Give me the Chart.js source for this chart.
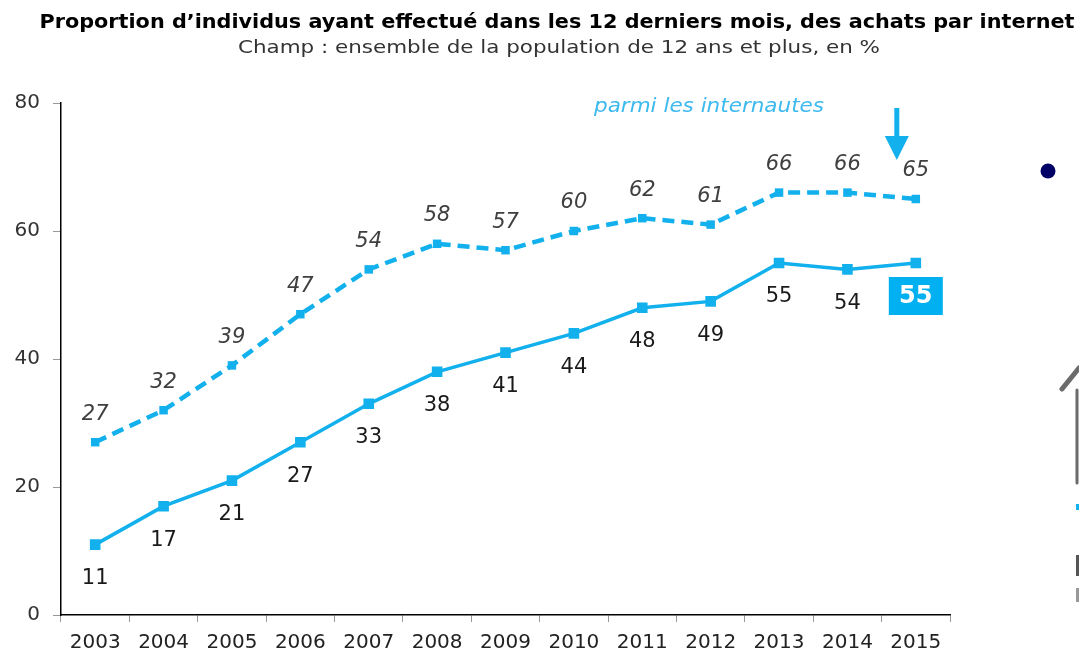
<!DOCTYPE html>
<html><head><meta charset="utf-8">
<script src="https://cdn.jsdelivr.net/npm/chart.js@4/dist/chart.umd.min.js"></script>
<style>html,body{margin:0;padding:0;background:#fff}#wrap{width:1079px;height:654px;position:relative}</style>
</head><body><div id="wrap"><canvas id="c" width="1079" height="654"></canvas></div>
<script>
const years = ['2003','2004','2005','2006','2007','2008','2009','2010','2011','2012','2013','2014','2015'];
const internautes = [27,32,39,47,54,58,57,60,62,61,66,66,65];
const ensemble = [11,17,21,27,33,38,41,44,48,49,55,54,55];
const yTicks = [0,20,40,60,80];
const titleText = 'Proportion d’individus ayant effectué dans les 12 derniers mois, des achats par internet';
const subtitleText = 'Champ : ensemble de la population de 12 ans et plus, en %';
const seriesNote = 'parmi les internautes';

const BLUE = '#12b0ec';

function fitText(ctx, text, cx, y, width, font, color) {
  ctx.save();
  ctx.font = font;
  ctx.fillStyle = color;
  ctx.textBaseline = 'middle';
  ctx.textAlign = 'left';
  const w = ctx.measureText(text).width;
  const s = width / w;
  ctx.translate(cx - width / 2, y);
  ctx.scale(s, 1);
  ctx.fillText(text, 0, 0);
  ctx.restore();
}

const extras = {
  id: 'extras',
  afterDatasetsDraw(chart) {
    const ctx = chart.ctx;
    // titles
    fitText(ctx, titleText, 557, 23, 1035, 'bold 19px "DejaVu Sans", sans-serif', '#000');
    fitText(ctx, subtitleText, 559, 48, 642, '18px "DejaVu Sans", sans-serif', '#333');
    // data labels
    const m0 = chart.getDatasetMeta(0), m1 = chart.getDatasetMeta(1);
    ctx.save();
    ctx.textAlign = 'center'; ctx.textBaseline = 'middle';
    ctx.font = 'italic 21px "DejaVu Sans", sans-serif';
    ctx.fillStyle = '#404040';
    m0.data.forEach((p, i) => { ctx.fillText(String(internautes[i]), p.x, p.y - 28); });
    ctx.font = '21px "DejaVu Sans", sans-serif';
    ctx.fillStyle = '#1a1a1a';
    m1.data.forEach((p, i) => {
      if (i === ensemble.length - 1) {
        ctx.fillStyle = '#00b0f0';
        ctx.fillRect(p.x - 27, p.y + 14, 54, 38);
        ctx.fillStyle = '#fff';
        ctx.font = 'bold 24px "DejaVu Sans", sans-serif';
        ctx.fillText(String(ensemble[i]), p.x, p.y + 34);
      } else {
        ctx.fillText(String(ensemble[i]), p.x, p.y + 34);
      }
    });
    // note
    fitText(ctx, seriesNote, 709, 107, 230, 'italic 19px "DejaVu Sans", sans-serif', '#3cb9ee');
    // arrow
    const last = m0.data[m0.data.length - 1];
    const ax = last.x - 19;
    ctx.fillStyle = '#12b0ec';
    ctx.fillRect(ax - 2.5, 108, 5, 30);
    ctx.beginPath(); ctx.moveTo(ax - 12, 136); ctx.lineTo(ax + 12, 136); ctx.lineTo(ax, 160); ctx.closePath(); ctx.fill();
    // navy dot
    ctx.fillStyle = '#000066';
    ctx.beginPath(); ctx.arc(1048, 171, 7.5, 0, Math.PI * 2); ctx.fill();
    // cropped grey shapes at right edge
    ctx.strokeStyle = '#6b6b6b'; ctx.lineWidth = 5; ctx.lineCap = 'round';
    ctx.beginPath(); ctx.moveTo(1062, 389); ctx.lineTo(1079, 368); ctx.stroke();
    ctx.lineWidth = 3; ctx.beginPath(); ctx.moveTo(1077, 390); ctx.lineTo(1077, 483); ctx.stroke();
    ctx.fillStyle = '#12b0ec'; ctx.fillRect(1076, 504, 3, 6);
    ctx.fillStyle = '#555'; ctx.fillRect(1076, 555, 3, 21);
    ctx.fillStyle = '#999'; ctx.fillRect(1076, 588, 3, 14);
    ctx.restore();
  }
};

new Chart(document.getElementById('c'), {
  type: 'line',
  data: {
    labels: years,
    datasets: [
      { label: 'Internautes', data: internautes, borderColor: BLUE, backgroundColor: BLUE,
        borderWidth: 4.5, borderDash: [12, 7], pointStyle: 'rect', pointRadius: 6, pointBorderWidth: 0,
        tension: 0, fill: false },
      { label: 'Ensemble', data: ensemble, borderColor: BLUE, backgroundColor: BLUE,
        borderWidth: 3.5, pointStyle: 'rect', pointRadius: 7.5, pointBorderWidth: 0,
        tension: 0, fill: false }
    ]
  },
  options: {
    responsive: false, animation: false,
    layout: { padding: { top: 103, right: 129, left: 0, bottom: 0 } },
    plugins: { legend: { display: false }, title: { display: false }, tooltip: { enabled: false } },
    scales: {
      x: {
        offset: true,
        grid: { drawOnChartArea: false, drawTicks: true, tickLength: 7, color: '#999', offset: true },
        border: { color: '#000', width: 1.5 },
        ticks: { color: '#222', padding: 9, maxRotation: 0, autoSkip: false,
          font: { family: '"DejaVu Sans", sans-serif', size: 20 } },
        afterFit(s) { s.height = 39; }
      },
      y: {
        min: 0, max: 80,
        afterBuildTicks(s) { s.ticks = yTicks.map(v => ({ value: v })); },
        grid: { drawOnChartArea: false, drawTicks: true, tickLength: 8, color: '#999' },
        border: { color: '#000', width: 1.5 },
        ticks: { color: '#333', padding: 13, font: { family: '"DejaVu Sans", sans-serif', size: 20 } },
        afterFit(s) { s.width = 61; }
      }
    }
  },
  plugins: [extras]
});
</script></body></html>
